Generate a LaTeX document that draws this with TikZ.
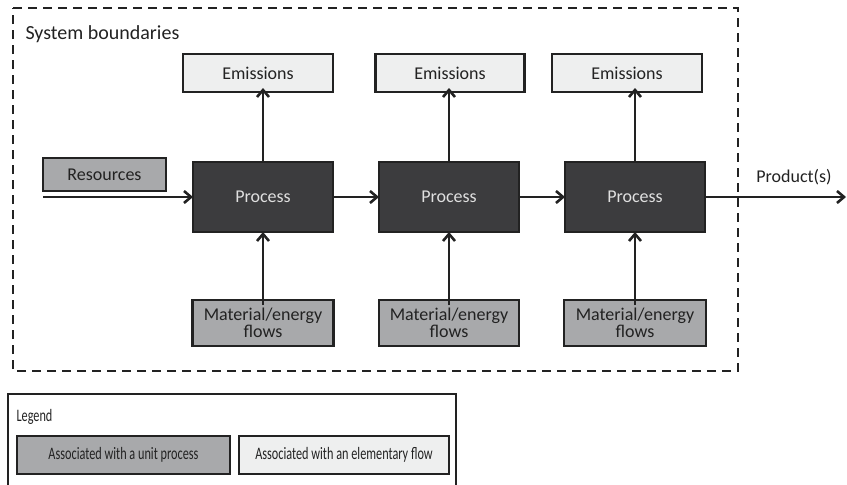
\documentclass[tikz,border=0pt]{standalone}
\usepackage{fontspec}
\setmainfont{Carlito}
\usetikzlibrary{arrows.meta}
\definecolor{procfill}{HTML}{3C3C3E}
\definecolor{unitfill}{HTML}{A8A9AB}
\definecolor{elemfill}{HTML}{EEEFEF}
\definecolor{lineclr}{HTML}{222222}
\begin{document}
\begin{tikzpicture}[x=1pt,y=-1pt,
  base/.style={draw=lineclr, line width=2.6pt, inner sep=0pt, outer sep=0pt, align=center,
    font=\fontsize{18}{19}\selectfont},
  procbox/.style={base, fill=procfill, text=white!88!black, minimum width=140pt, minimum height=70pt},
  unitbox/.style={base, fill=unitfill, text=lineclr},
  elembox/.style={base, fill=elemfill, text=lineclr},
  flow/.style={draw=lineclr, line width=2.6pt, -{Straight Barb[length=7pt,width=12pt,line width=2.6pt]}},
  legtext/.style={font=\fontsize{17.5}{19}\selectfont}
]
\clip (0,0) rectangle (847,485);
\useasboundingbox (0,0) rectangle (847,485);
% system boundary
\draw[lineclr, line width=2.6pt, dash pattern=on 9pt off 6pt] (13,8) -- (738,8) -- (738,371) -- (13,371) -- cycle;
\node[anchor=west, text=lineclr, font=\fontsize{20}{22}\selectfont] (sb) at (22,34) {System boundaries};
% processes
\node[procbox] (p1) at (263,197) {Process};
\node[procbox] (p2) at (449,197) {Process};
\node[procbox] (p3) at (635,197) {Process};
% emissions
\node[elembox, minimum width=150pt, minimum height=38pt] (e1) at (258,73) {Emissions};
\node[elembox, minimum width=149pt, minimum height=38pt] (e2) at (450,73) {Emissions};
\node[elembox, minimum width=150pt, minimum height=38pt] (e3) at (627,73) {Emissions};
% materials
\node[unitbox, minimum width=141pt, minimum height=46pt] (m1) at (263,323) {Material/energy\\[-2pt]flows};
\node[unitbox, minimum width=140pt, minimum height=46pt] (m2) at (449,323) {Material/energy\\[-2pt]flows};
\node[unitbox, minimum width=142pt, minimum height=46pt] (m3) at (635,323) {Material/energy\\[-2pt]flows};
% resources
\node[unitbox, minimum width=123pt, minimum height=33pt] (res) at (104.5,174.5) {Resources};
\coordinate (rstart) at (43,197);
\draw[flow] (rstart) -- (p1.west);
\draw[flow] (p1) -- (p2);
\draw[flow] (p2) -- (p3);
\coordinate (pend) at (846,197);
\draw[flow] (p3.east) -- (pend);
\node[text=lineclr, font=\fontsize{18}{20}\selectfont] (prod) at (794,177) {Product(s)};
\foreach \i in {1,2,3} {
  \draw[flow] (p\i.north) -- ([yshift=4pt]p\i.north |- e\i.south);
  \draw[flow] ([yshift=-5pt]p\i.south |- m\i.north) -- (p\i.south);
}
% legend
\draw[lineclr, line width=2pt] (8,520) -- (8,394) -- (456,394) -- (456,520);
\node[anchor=west, text=lineclr, legtext] (leg) at (13,417) {\scalebox{0.7}[1]{Legend}};
\node[unitbox, minimum width=213pt, minimum height=38pt, legtext] (l1) at (123.5,455) {\scalebox{0.7}[1]{Associated with a unit process}};
\node[elembox, minimum width=210pt, minimum height=38pt, legtext] (l2) at (344,455) {\scalebox{0.7}[1]{Associated with an elementary flow}};
\end{tikzpicture}
\end{document}
